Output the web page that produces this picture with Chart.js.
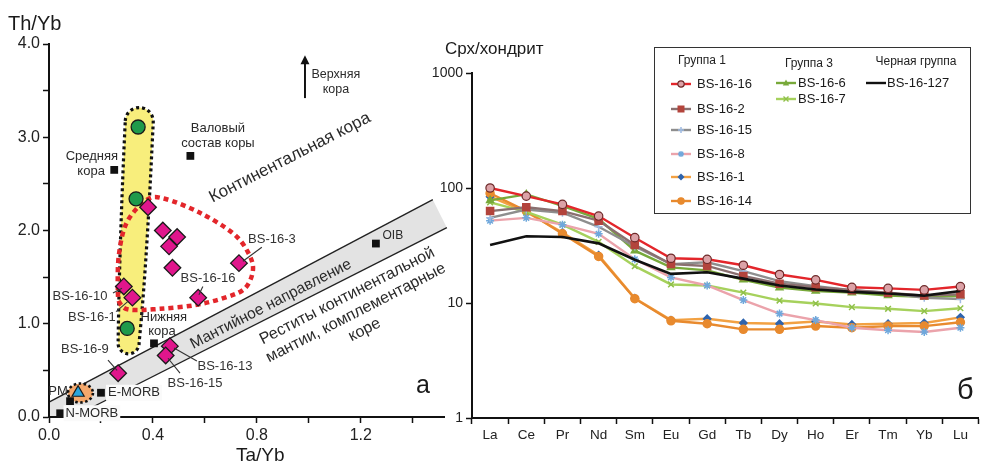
<!DOCTYPE html>
<html><head><meta charset="utf-8">
<script src="https://cdn.jsdelivr.net/npm/chart.js@4.4.1/dist/chart.umd.min.js"></script>
<style>
html,body{margin:0;padding:0;background:#fff;}
body{width:985px;height:463px;overflow:hidden;position:relative;font-family:"Liberation Sans",Arial,sans-serif;color:#1a1a1a;}
.box{position:absolute;}
.t{position:absolute;white-space:nowrap;line-height:1;}
#legend{position:absolute;left:654px;top:47px;width:317px;height:167px;border:1.5px solid #333;box-sizing:border-box;}
</style></head><body>
<div class="box" style="left:0;top:0;width:460px;height:463px"><canvas id="cl"></canvas></div>
<div class="box" style="left:422px;top:0;width:563px;height:463px"><canvas id="cr"></canvas></div>
<div class="t" style="left:8px;top:13px;font-size:20px">Th/Yb</div>
<div class="t" style="left:236px;top:445px;font-size:19px">Ta/Yb</div>
<div class="t" style="left:445px;top:40px;font-size:17px">Срх/хондрит</div>
<div class="t" style="left:416px;top:372px;font-size:25px">а</div>
<div class="t" style="left:957px;top:375px;font-size:29px">б</div>
<div id="legend"></div>
<script>
const FONT='"Liberation Sans", Arial, sans-serif';
Chart.defaults.font.family=FONT;
Chart.defaults.color='#1a1a1a';
Chart.defaults.animation=false;

// ---------- Panel a: Th/Yb vs Ta/Yb ----------
const xTicksA=[0,0.2,0.4,0.6,0.8,1.0,1.2,1.4];
const yTicksA=[0,0.5,1,1.5,2,2.5,3,3.5,4];
const sampleX=[0.381,0.438,0.493,0.462,0.475,0.731,0.574,0.288,0.321,0.266,0.465,0.449];
const sampleY=[2.25,2.00,1.93,1.83,1.60,1.65,1.28,1.40,1.28,0.47,0.76,0.66];
const greenX=[0.343,0.335,0.301];
const greenY=[3.11,2.34,0.95];
const refNames=['Средняя кора','Валовый состав коры','Нижняя кора','E-MORB','N-MORB','PM','OIB'];
const refX=[0.251,0.544,0.404,0.200,0.043,0.081,1.258];
const refY=[2.65,2.80,0.79,0.26,0.04,0.17,1.86];
const pmX=[0.112];
const pmY=[0.26];
// mantle array band boundaries (data units)
const bandUpper=[[0,0.16],[1.477,2.33]];
const bandLower=[[0.092,0],[1.531,2.03]];
// red dotted field outline (data units)
const redLoop=[[0.265,1.36],[0.269,1.74],[0.30,2.09],[0.377,2.33],[0.446,2.34],[0.581,2.19],[0.708,1.97],[0.765,1.77],[0.785,1.58],[0.754,1.38],[0.677,1.28],[0.562,1.20],[0.427,1.16],[0.312,1.15],[0.273,1.22]];

const zip=(xs,ys)=>xs.map((x,i)=>({x:x,y:ys[i]}));

// annotation layout (data units)
const sampleLabels=[
 {t:'BS-16-3', at:[0.858,1.90], l:[[0.819,1.82],[0.746,1.67]]},
 {t:'BS-16-16',at:[0.612,1.49], l:[[0.592,1.40],[0.577,1.31]]},
 {t:'BS-16-10',at:[0.119,1.29], l:[[0.246,1.33],[0.281,1.38]]},
 {t:'BS-16-1', at:[0.165,1.07], l:[[0.258,1.13],[0.304,1.24]]},
 {t:'BS-16-9', at:[0.138,0.73], l:[[0.227,0.61],[0.262,0.50]]},
 {t:'BS-16-13',at:[0.677,0.54], l:[[0.569,0.60],[0.481,0.74]]},
 {t:'BS-16-15',at:[0.562,0.36], l:[[0.504,0.47],[0.458,0.63]]}
];
const refLabels=[
 {t:'Средняя',at:[0.165,2.79]},{t:'кора',at:[0.162,2.63]},
 {t:'Валовый',at:[0.65,3.10]},{t:'состав коры',at:[0.65,2.93]},
 {t:'Нижняя',at:[0.442,1.07]},{t:'кора',at:[0.435,0.92]},
 {t:'E-MORB',at:[0.327,0.26],bg:true},{t:'N-MORB',at:[0.165,0.04],bg:true},
 {t:'PM',at:[0.035,0.27]},{t:'OIB',at:[1.323,1.94],size:12},
 {t:'Верхняя',at:[1.104,3.67],size:12.5},{t:'кора',at:[1.104,3.51],size:12.5}
];

function smoothClosed(ctx,pts){
  const n=pts.length;
  ctx.moveTo(pts[0][0],pts[0][1]);
  for(let i=0;i<n;i++){
    const p0=pts[(i-1+n)%n],p1=pts[i],p2=pts[(i+1)%n],p3=pts[(i+2)%n];
    ctx.bezierCurveTo(p1[0]+(p2[0]-p0[0])/6,p1[1]+(p2[1]-p0[1])/6,p2[0]-(p3[0]-p1[0])/6,p2[1]-(p3[1]-p1[1])/6,p2[0],p2[1]);
  }
  ctx.closePath();
}

const decoA={
  id:'decoA',
  beforeDraw(chart){
    const ctx=chart.ctx, xs=chart.scales.x, ys=chart.scales.y;
    const P=(p)=>[xs.getPixelForValue(p[0]),ys.getPixelForValue(p[1])];
    ctx.save();
    // band
    const u0=P(bandUpper[0]),u1=P(bandUpper[1]),l0=P(bandLower[0]),l1=P(bandLower[1]);
    const o=P([0,0]);
    ctx.beginPath();ctx.moveTo(u0[0],u0[1]);ctx.lineTo(u1[0],u1[1]);ctx.lineTo(l1[0],l1[1]);ctx.lineTo(l0[0],l0[1]);ctx.lineTo(o[0],o[1]);ctx.closePath();
    ctx.fillStyle='#e3e3e3';ctx.fill();
    ctx.strokeStyle='#222';ctx.lineWidth=1.4;
    ctx.beginPath();ctx.moveTo(u0[0],u0[1]);ctx.lineTo(u1[0],u1[1]);ctx.stroke();
    ctx.beginPath();ctx.moveTo(l0[0],l0[1]);ctx.lineTo(l1[0],l1[1]);ctx.stroke();
    // rotated region texts
    const ang=-0.475;
    function rtext(lines,at,size,gap){
      const c=P(at);
      ctx.save();ctx.translate(c[0],c[1]);ctx.rotate(ang);
      ctx.font=size+'px '+FONT;ctx.fillStyle='#2a2a2a';ctx.textAlign='center';ctx.textBaseline='middle';
      const h=(lines.length-1)*gap/2;
      lines.forEach((s,i)=>ctx.fillText(s,0,-h+i*gap));
      ctx.restore();
    }
    rtext(['Континентальная кора'],[0.927,2.78],17,0);
    rtext(['Мантийное направление'],[0.854,1.21],15.5,0);
    rtext(['Реститы континентальной','мантии, комплементарные','коре'],[1.181,1.115],16,19);
    // yellow field (tapered capsule)
    const yc=P([0.327,1.99]);
    ctx.save();ctx.translate(yc[0],yc[1]);ctx.rotate(0.048);
    ctx.beginPath();
    ctx.arc(0,-110,14,Math.PI,0);
    ctx.bezierCurveTo(14,-40,14,40,10.5,110);
    ctx.arc(0,112,10.5,0,Math.PI,false);
    ctx.bezierCurveTo(-13,40,-14,-40,-14,-110);
    ctx.closePath();
    ctx.fillStyle='#f8ee7c';ctx.fill();
    ctx.setLineDash([3,3]);ctx.lineWidth=3.2;ctx.strokeStyle='#111';ctx.stroke();
    ctx.restore();
    // orange field
    const oc=P([0.121,0.257]);
    ctx.beginPath();ctx.ellipse(oc[0],oc[1],12.5,9.5,0,0,Math.PI*2);
    ctx.fillStyle='#f4a86c';ctx.fill();
    ctx.setLineDash([2.5,2.5]);ctx.lineWidth=2.6;ctx.strokeStyle='#111';ctx.stroke();
    // red dotted field
    ctx.beginPath();smoothClosed(ctx,redLoop.map(P));
    ctx.setLineDash([5,4]);ctx.lineWidth=4.5;ctx.strokeStyle='#e3262b';ctx.stroke();
    ctx.setLineDash([]);
    ctx.restore();
  },
  afterDatasetsDraw(chart){
    const ctx=chart.ctx, xs=chart.scales.x, ys=chart.scales.y;
    const P=(p)=>[xs.getPixelForValue(p[0]),ys.getPixelForValue(p[1])];
    ctx.save();
    ctx.textAlign='center';ctx.textBaseline='middle';
    sampleLabels.forEach(a=>{
      const p=P(a.at);ctx.font='13px '+FONT;ctx.fillStyle='#333';ctx.fillText(a.t,p[0],p[1]);
      const s=P(a.l[0]),e=P(a.l[1]);
      ctx.beginPath();ctx.moveTo(s[0],s[1]);ctx.lineTo(e[0],e[1]);ctx.strokeStyle='#333';ctx.lineWidth=1.1;ctx.stroke();
    });
    refLabels.forEach(a=>{
      const p=P(a.at);ctx.font=(a.size||13)+'px '+FONT;
      if(a.bg){const w=ctx.measureText(a.t).width;ctx.fillStyle='#fafafa';ctx.fillRect(p[0]-w/2-2,p[1]-8,w+4,16);}
      ctx.fillStyle='#2a2a2a';ctx.fillText(a.t,p[0],p[1]);
    });
    // arrow to upper crust
    const a0=P([0.985,3.42]),a1=P([0.985,3.88]);
    ctx.strokeStyle='#111';ctx.fillStyle='#111';ctx.lineWidth=2;
    ctx.beginPath();ctx.moveTo(a0[0],a0[1]);ctx.lineTo(a1[0],a1[1]+6);ctx.stroke();
    ctx.beginPath();ctx.moveTo(a1[0],a1[1]);ctx.lineTo(a1[0]-4.5,a1[1]+9);ctx.lineTo(a1[0]+4.5,a1[1]+9);ctx.closePath();ctx.fill();
    ctx.restore();
  }
};

const axisCommon={
  border:{display:true,color:'#111',width:2},
  grid:{display:true,drawOnChartArea:false,drawTicks:true,tickLength:6,tickColor:'#111',tickWidth:1.5}
};

new Chart(document.getElementById('cl'),{
  type:'scatter',
  data:{datasets:[
    {label:'samples',data:zip(sampleX,sampleY),pointStyle:'rectRot',pointRadius:8.3,backgroundColor:'#e0168c',borderColor:'#1a1a1a',borderWidth:1.3},
    {label:'group',data:zip(greenX,greenY),pointStyle:'circle',pointRadius:7,backgroundColor:'#1f9a4b',borderColor:'#1a1a1a',borderWidth:1.3},
    {label:'PM',data:zip(pmX,pmY),pointStyle:'triangle',pointRadius:7,backgroundColor:'#2aa5dc',borderColor:'#1a1a1a',borderWidth:1.2},
    {label:'reference',data:zip(refX,refY),pointStyle:'rect',pointRadius:5.5,backgroundColor:'#111',borderColor:'#111',borderWidth:0}
  ]},
  options:{
    responsive:true,maintainAspectRatio:false,
    layout:{padding:{top:44,right:16,left:0,bottom:0}},
    plugins:{legend:{display:false},tooltip:{enabled:false}},
    scales:{
      x:Object.assign({type:'linear',min:0,max:1.52,
        afterFit:s=>{s.height=46;},
        afterBuildTicks:s=>{s.ticks=xTicksA.map(v=>({value:v}));},
        ticks:{font:{size:16},color:'#222',padding:3,maxRotation:0,autoSkip:false,
          callback:(v)=>{const q=v/0.4;return Math.abs(q-Math.round(q))<1e-6?v.toFixed(1):'';}}
      },axisCommon),
      y:Object.assign({type:'linear',min:0,max:4,
        afterFit:s=>{s.width=49;},
        afterBuildTicks:s=>{s.ticks=yTicksA.map(v=>({value:v}));},
        ticks:{font:{size:16},color:'#222',padding:3,autoSkip:false,
          callback:(v)=>Number.isInteger(v)?v.toFixed(1):''}
      },axisCommon)
    }
  },
  plugins:[decoA]
});

// ---------- Panel b: chondrite-normalised REE ----------
const elements=['La','Ce','Pr','Nd','Sm','Eu','Gd','Tb','Dy','Ho','Er','Tm','Yb','Lu'];
const yTicksB=[1,10,100,1000];
const bs16_16=[100,85,72,57,37,24.5,24,21.3,17.7,15.9,13.7,13.4,13.0,13.9];
const bs16_2=[63,68,63,52,32,21.8,21,17.2,14.7,13.7,12.9,12.3,11.6,11.9];
const bs16_15=[55,65,61,46,31,21.8,22.6,18.9,15.5,14,12.9,12.2,11.1,10.8];
const bs16_8=[52,55,48,40,24,16.7,14.2,10.6,8.1,7.1,6.1,5.8,5.6,6.1];
const bs16_1=[84,62,41,26,11,7.1,7.3,6.7,6.6,6.9,6.5,6.6,6.7,7.5];
const bs16_14=[90,63,40,25.4,10.9,7.0,6.6,5.9,5.9,6.3,6.1,6.3,6.3,6.8];
const bs16_6=[78,88,70,54,28.5,20.4,19.2,15.9,13.6,12.7,12.3,11.6,11.3,11.5];
const bs16_7=[75,62,48,34,20.9,14.5,14.2,12.3,10.5,9.9,9.2,8.9,8.5,9.0];
const bs16_127=[32,38,37.5,33,23.8,17.9,18.5,16.3,14.2,13.1,12.5,12.1,11.6,12.7];

const styles={
 'BS-16-16':{line:'#e3262b',ps:'circle',bg:'#dca2a7',bd:'#6e2a2a',r:4.2},
 'BS-16-127':{line:'#111111',ps:false,bg:'#111',bd:'#111',r:0},
 'BS-16-2':{line:'#8a7070',ps:'rect',bg:'#b3443c',bd:'#b3443c',r:5},
 'BS-16-15':{line:'#8e8e8e',ps:'cross',bg:'#a9c3e6',bd:'#9fbbe2',r:4},
 'BS-16-6':{line:'#78a93a',ps:'triangle',bg:'#78a93a',bd:'#78a93a',r:4},
 'BS-16-8':{line:'#eba3ab',ps:'star',bg:'#5b9bd5',bd:'#6fa8dc',r:4},
 'BS-16-7':{line:'#a6d15c',ps:'crossRot',bg:'#8fc04a',bd:'#8fc04a',r:4},
 'BS-16-14':{line:'#e88a2e',ps:'circle',bg:'#e88a2e',bd:'#e88a2e',r:4},
 'BS-16-1':{line:'#f2a143',ps:'rectRot',bg:'#2e64ae',bd:'#2e64ae',r:3.6}
};
const seriesB=[['BS-16-16',bs16_16],['BS-16-127',bs16_127],['BS-16-2',bs16_2],['BS-16-15',bs16_15],['BS-16-6',bs16_6],['BS-16-8',bs16_8],['BS-16-7',bs16_7],['BS-16-14',bs16_14],['BS-16-1',bs16_1]];

new Chart(document.getElementById('cr'),{
  type:'line',
  data:{labels:elements,datasets:seriesB.map(([n,d])=>{const s=styles[n];return {
    label:n,data:d,borderColor:s.line,borderWidth:n==='BS-16-127'?2.6:2.4,
    pointStyle:s.ps,pointRadius:s.r,pointBackgroundColor:s.bg,pointBorderColor:s.bd,pointBorderWidth:n==='BS-16-16'?1.2:1.5,
    fill:false,tension:0};})},
  options:{
    responsive:true,maintainAspectRatio:false,
    layout:{padding:{top:73,right:0,left:0,bottom:0}},
    plugins:{legend:{display:false},tooltip:{enabled:false}},
    scales:{
      x:{type:'category',offset:true,
        border:{display:true,color:'#111',width:2},
        grid:{display:true,offset:true,drawOnChartArea:false,drawTicks:true,tickLength:6,tickColor:'#111',tickWidth:1.5},
        afterFit:s=>{s.height=45;},
        ticks:{font:{size:13.5},color:'#222',padding:3,maxRotation:0,autoSkip:false}},
      y:{type:'logarithmic',min:1,max:1000,
        border:{display:true,color:'#111',width:2},
        grid:{display:true,drawOnChartArea:false,drawTicks:true,tickLength:6,tickColor:'#111',tickWidth:1.5},
        afterFit:s=>{s.width=50;},
        afterBuildTicks:s=>{s.ticks=yTicksB.map(v=>({value:v}));},
        ticks:{font:{size:14},color:'#222',padding:3,autoSkip:false,callback:(v)=>String(v)}}
    }
  }
});

// ---------- Legend ----------
const legendCols=[
 {title:'Группа 1',tx:702,ty:60,sx:671,txx:697,rows:[['BS-16-16',84],['BS-16-2',109],['BS-16-15',130],['BS-16-8',154],['BS-16-1',177],['BS-16-14',201]]},
 {title:'Группа 3',tx:809,ty:63,sx:776,txx:798,rows:[['BS-16-6',83],['BS-16-7',99]]},
 {title:'Черная группа',tx:916,ty:61,sx:866,txx:887,rows:[['BS-16-127',83]]}
];
function markerSvg(s){
  const c=10,m=5;
  switch(s.ps){
    case 'circle':return `<circle cx="${c}" cy="${m}" r="3.2" fill="${s.bg}" stroke="${s.bd}" stroke-width="1.2"/>`;
    case 'rect':return `<rect x="${c-3.5}" y="${m-3.5}" width="7" height="7" fill="${s.bg}"/>`;
    case 'cross':return `<path d="M${c-3} ${m}H${c+3}M${c} ${m-3}V${m+3}" stroke="${s.bd}" stroke-width="1.5"/>`;
    case 'star':return `<path d="M${c-3} ${m}H${c+3}M${c} ${m-3}V${m+3}M${c-2.2} ${m-2.2}L${c+2.2} ${m+2.2}M${c-2.2} ${m+2.2}L${c+2.2} ${m-2.2}" stroke="${s.bd}" stroke-width="1.3"/>`;
    case 'rectRot':return `<path d="M${c} ${m-3.5}L${c+3.5} ${m}L${c} ${m+3.5}L${c-3.5} ${m}Z" fill="${s.bg}"/>`;
    case 'triangle':return `<path d="M${c} ${m-3.5}L${c+3.2} ${m+2.5}L${c-3.2} ${m+2.5}Z" fill="${s.bg}"/>`;
    case 'crossRot':return `<path d="M${c-2.5} ${m-2.5}L${c+2.5} ${m+2.5}M${c-2.5} ${m+2.5}L${c+2.5} ${m-2.5}" stroke="${s.bd}" stroke-width="1.4"/>`;
    default:return '';
  }
}
let html='';
legendCols.forEach(col=>{
  html+=`<div class="t" style="left:${col.tx-60}px;width:120px;text-align:center;top:${col.ty-6}px;font-size:12px;color:#222">${col.title}</div>`;
  col.rows.forEach(([n,y])=>{
    const s=styles[n];
    html+=`<svg style="position:absolute;left:${col.sx}px;top:${y-5}px" width="20" height="10"><line x1="0" y1="5" x2="20" y2="5" stroke="${s.line}" stroke-width="2.4"/>${markerSvg(s)}</svg>`;
    html+=`<div class="t" style="left:${col.txx}px;top:${y-7}px;font-size:13px;color:#1a1a1a">${n}</div>`;
  });
});
document.body.insertAdjacentHTML('beforeend',html);
</script>
</body></html>
